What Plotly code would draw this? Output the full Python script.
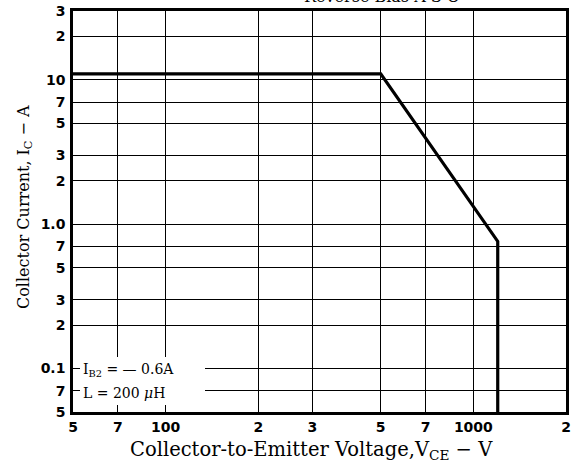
import plotly.graph_objects as go

# Safe operating area boundary (reverse bias)
vce = [50, 500, 1200, 1200]
ic = [11, 11, 0.76, 0.05]

x_tickvals = [50, 70, 100, 200, 300, 500, 700, 1000, 2000]
x_ticktext = ["5", "7", "100", "2", "3", "5", "7", "1000", "2"]
y_tickvals = [0.05, 0.07, 0.1, 0.2, 0.3, 0.5, 0.7, 1.0, 2, 3, 5, 7, 10, 20, 30]
y_ticktext = ["5", "7", "0.1", "2", "3", "5", "7", "1.0", "2", "3", "5", "7", "10", "2", "3"]

L, R, T, B = 73, 13, 11, 61
W, H = 579, 473
pw, ph = W - L - R, H - T - B

def px2paper_x(px):
    return (px - L) / pw

def px2paper_y(py):
    return (H - B - py) / ph

fig = go.Figure()
fig.add_trace(go.Scatter(x=vce, y=ic, mode="lines",
                         line=dict(color="black", width=3.2),
                         showlegend=False, hoverinfo="skip"))

tickfont = dict(family="DejaVu Sans", size=14, color="black", weight="bold")
fig.update_xaxes(type="log", range=[1.69897, 3.30104], automargin=False,
                 tickvals=x_tickvals, ticktext=x_ticktext, tickfont=tickfont,
                 showgrid=True, gridcolor="black", gridwidth=1.4,
                 showline=True, linecolor="black", linewidth=2.5, mirror=True,
                 ticks="", zeroline=False)
fig.update_yaxes(type="log", range=[-1.30103, 1.47713], automargin=False,
                 tickvals=y_tickvals, ticktext=y_ticktext, tickfont=tickfont,
                 showgrid=True, gridcolor="black", gridwidth=1.4,
                 showline=True, linecolor="black", linewidth=2.5, mirror=True,
                 ticks="", zeroline=False, ticklabelstandoff=2)

# axis titles
fig.add_annotation(xref="paper", yref="paper", x=px2paper_x(311), y=px2paper_y(450),
                   xanchor="center", yanchor="middle", showarrow=False,
                   text="Collector-to-Emitter Voltage,V<sub>CE</sub> − V",
                   font=dict(family="DejaVu Serif", size=19.5, color="black"))
fig.add_annotation(xref="paper", yref="paper", x=px2paper_x(24), y=px2paper_y(207),
                   xanchor="center", yanchor="middle", showarrow=False, textangle=-90,
                   text="Collector Current, I<sub>C</sub> − A",
                   font=dict(family="DejaVu Serif", size=16, color="black"))

# white box behind the condition text
fig.add_shape(type="rect", xref="paper", yref="paper",
              x0=px2paper_x(80), x1=px2paper_x(205),
              y0=px2paper_y(357), y1=px2paper_y(405),
              fillcolor="white", line=dict(width=0), layer="above")

txtfont = dict(family="DejaVu Serif", size=14, color="black")
fig.add_annotation(xref="paper", yref="paper", x=px2paper_x(81), y=px2paper_y(370),
                   xanchor="left", yanchor="middle", showarrow=False,
                   text="I<sub>B2</sub> = — 0.6A", font=txtfont)
fig.add_annotation(xref="paper", yref="paper", x=px2paper_x(81), y=px2paper_y(393),
                   xanchor="left", yanchor="middle", showarrow=False,
                   text="L = 200 <i>μ</i>H", font=txtfont)
fig.add_annotation(xref="paper", yref="paper", x=px2paper_x(382), y=px2paper_y(8),
                   xanchor="center", yanchor="bottom", showarrow=False,
                   text="Reverse Bias A S O", font=dict(family="DejaVu Serif", size=16, color="black"))

fig.update_layout(width=W, height=H, margin=dict(l=L, r=R, t=T, b=B),
                  plot_bgcolor="white", paper_bgcolor="white")

fig.write_html("out.html", config={"displayModeBar": False},
               post_script="document.body.style.margin='0';")
